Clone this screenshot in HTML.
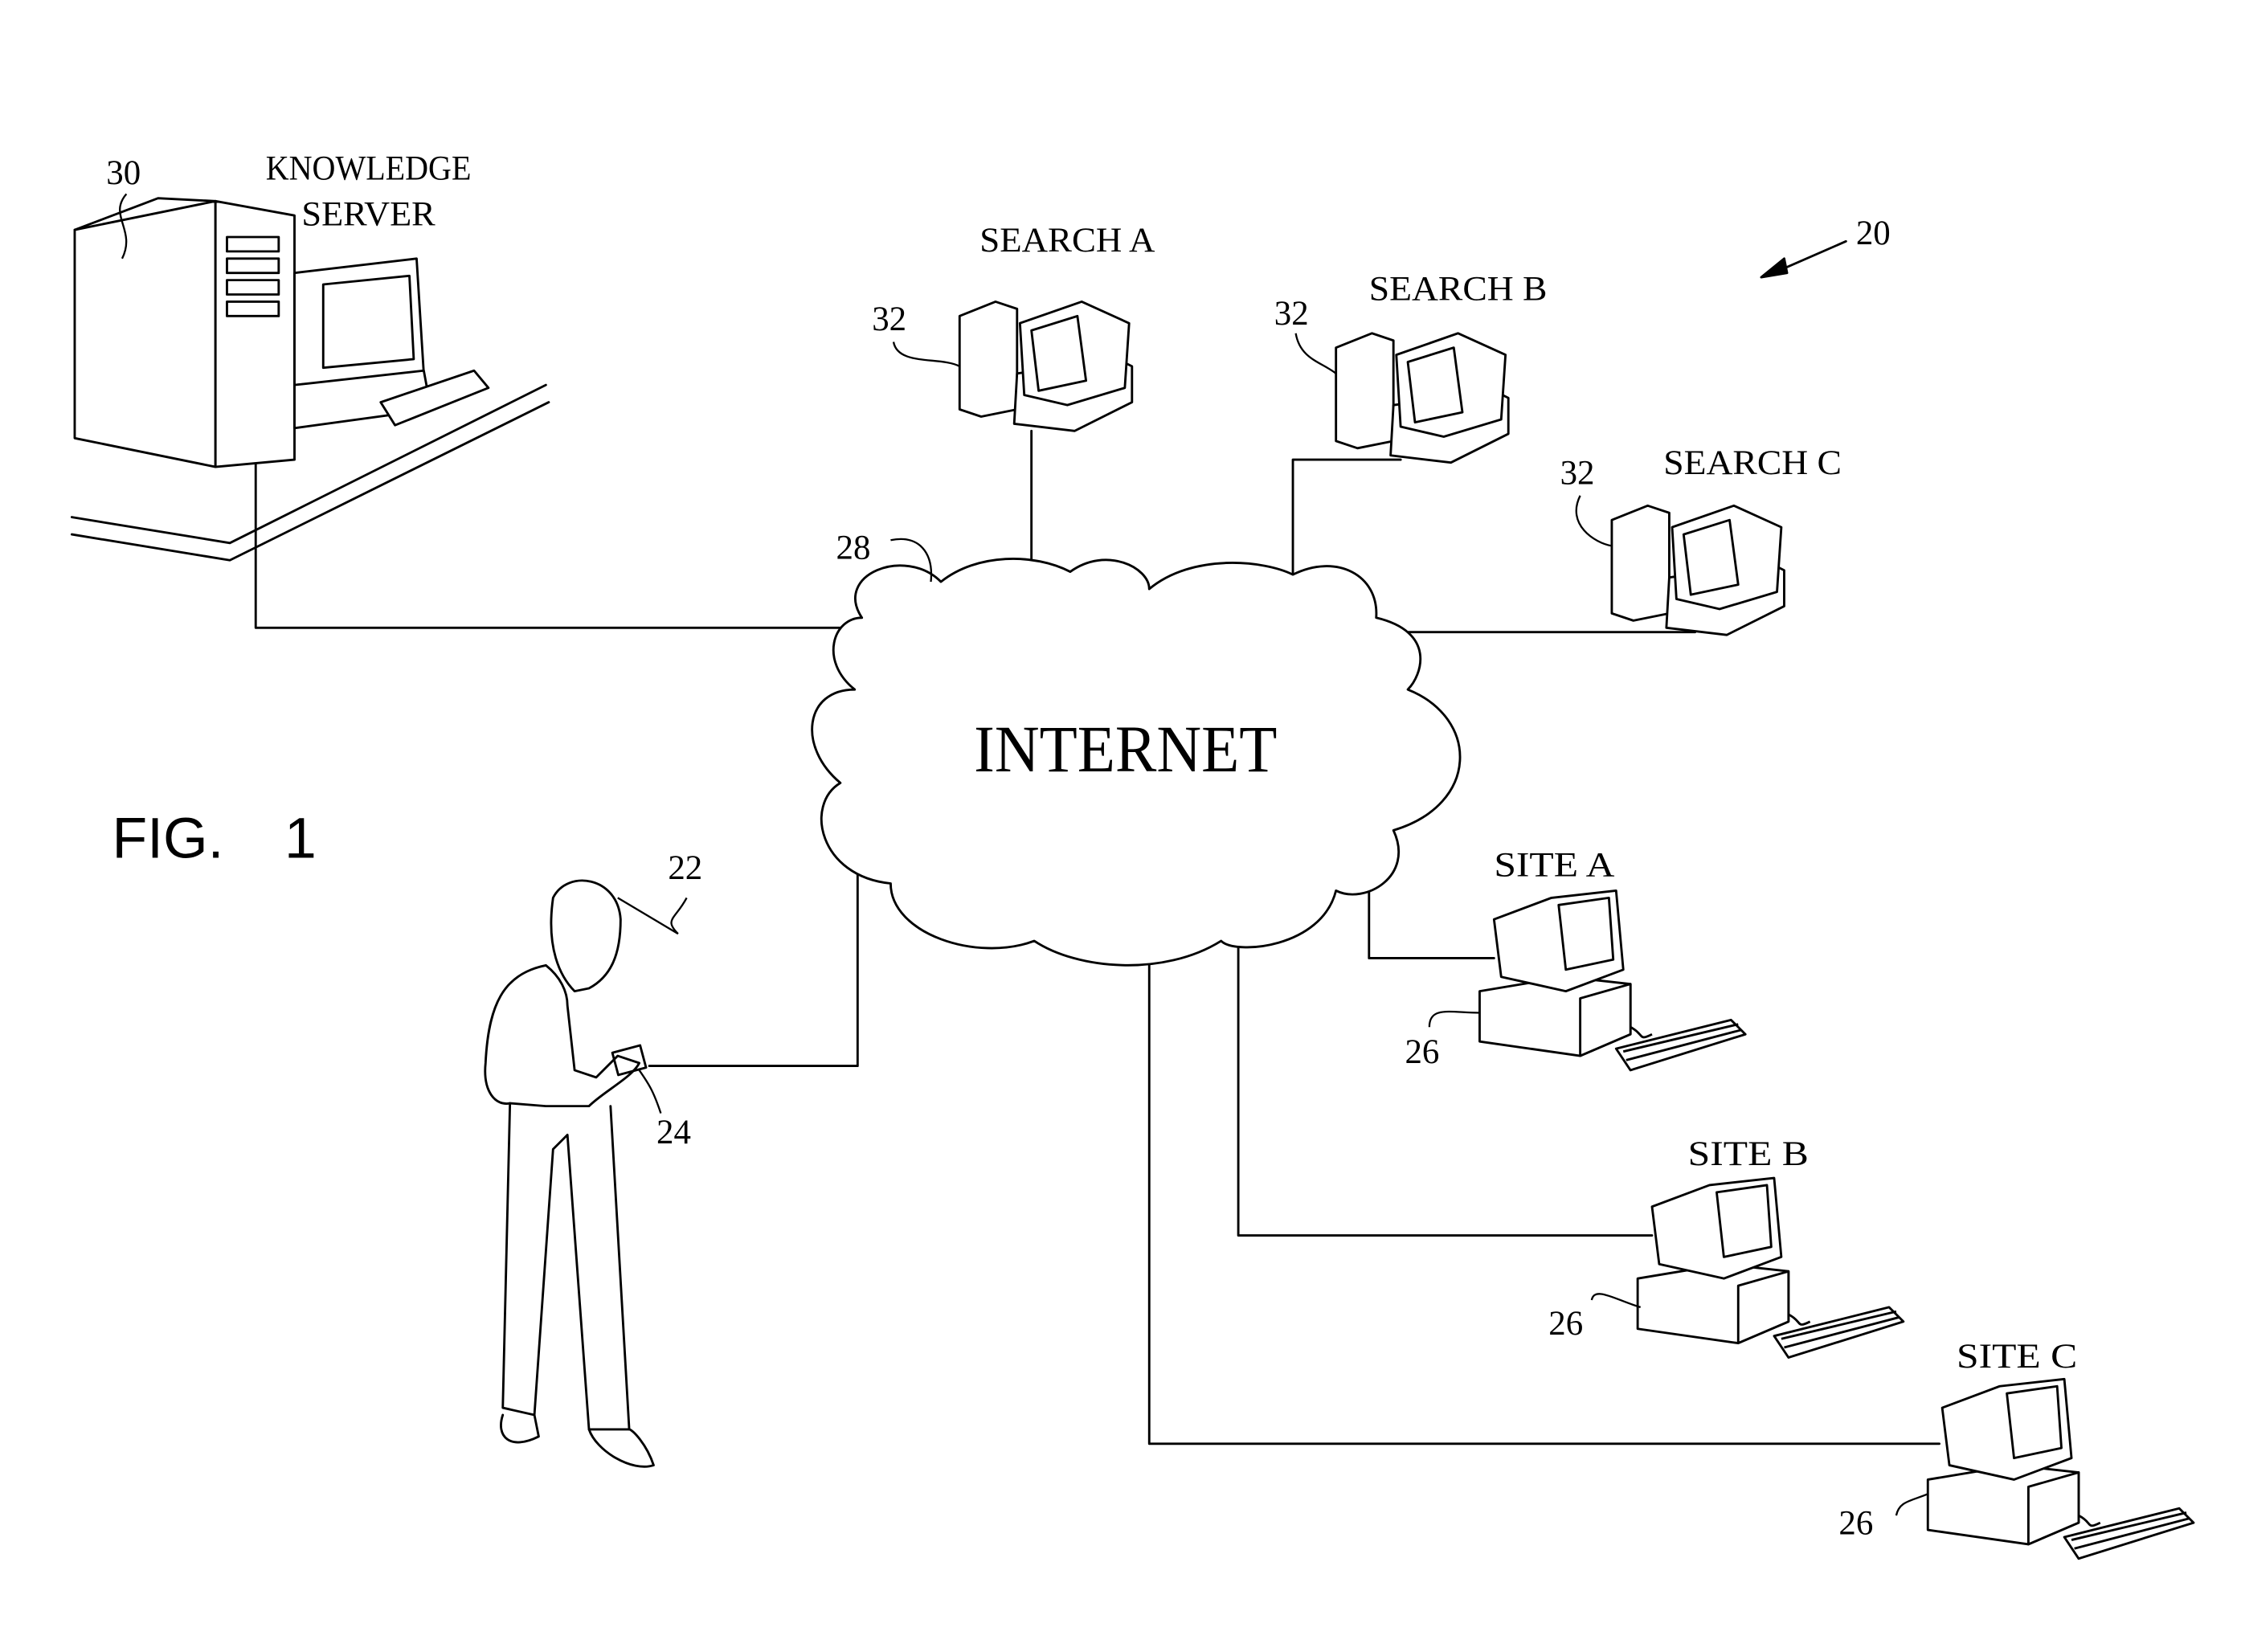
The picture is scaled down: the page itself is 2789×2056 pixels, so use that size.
<!DOCTYPE html>
<html><head><meta charset="utf-8"><style>
html,body{margin:0;padding:0;background:#fff;}
svg{display:block;}
.t{font-family:"Liberation Serif",serif;fill:#000;}
</style></head><body>
<svg width="2789" height="2056" viewBox="0 0 1560 1150" xmlns="http://www.w3.org/2000/svg">
<g fill="none" stroke="#000" stroke-width="1.6" stroke-linejoin="round" stroke-linecap="round">
<polyline points="178,315 178,437 592,437"/>
<polyline points="718,300 718,390"/>
<polyline points="975,320 900,320 900,400"/>
<polyline points="960,440 1180,440"/>
<polyline points="953,615 953,667 1040,667"/>
<polyline points="862,660 862,860 1150,860"/>
<polyline points="800,668 800,1005 1350,1005"/>
<polyline points="597,600 597,742 452,742"/>
<polyline points="1230,192 1285,168"/><polygon points="1226,193 1242,180 1244,190" fill="#000"/>
<path fill="#fff" d="M600,430 C580,400 630,380 655,405 C680,385 720,385 745,398 C770,380 800,395 800,410 C830,385 880,390 900,400 C930,385 960,400 958,430 C1000,440 990,470 980,480 C1030,500 1030,560 970,578 C985,610 950,630 930,620 C920,660 860,665 850,655 C810,680 750,675 720,655 C680,670 620,650 620,615 C570,610 560,560 585,545 C555,520 560,480 595,480 C570,460 580,430 600,430 Z"/>
<polyline points="50,360 160,378 380,268"/>
<polyline points="50,372 160,390 382,280"/>
<polygon fill="#fff" points="52,160 150,140 150,325 52,305"/>
<polygon fill="#fff" points="150,140 205,150 205,320 150,325"/>
<polyline points="52,160 110,138 150,140"/>
<rect x="158" y="165" width="36" height="10"/><rect x="158" y="180" width="36" height="10"/><rect x="158" y="195" width="36" height="10"/><rect x="158" y="210" width="36" height="10"/>
<polygon fill="#fff" points="205,190 290,180 295,260 205,268"/>
<polygon points="225,198 285,192 288,250 225,256"/>
<polygon fill="#fff" points="205,268 295,258 300,285 205,298"/>
<polygon fill="#fff" points="265,280 330,258 340,270 275,296"/>
</g>
<defs>
<g id="pc" fill="#fff" stroke="#000" stroke-width="1.6" stroke-linejoin="round">
<polygon points="0,10 25,0 40,5 40,75 15,80 0,75"/>
<polygon points="40,50 110,40 120,45 120,70 80,90 38,85"/>
<polygon points="42,15 85,0 118,15 115,60 75,72 45,65"/>
<polygon fill="none" points="50,20 82,10 88,55 55,62"/>
</g>
<g id="site" fill="#fff" stroke="#000" stroke-width="1.6" stroke-linejoin="round">
<polygon points="0,70 60,60 105,65 105,100 70,115 0,105"/>
<polygon points="70,75 105,65 105,100 70,115"/>
<polygon points="10,20 50,5 95,0 100,55 60,70 15,60"/>
<polygon fill="none" points="55,10 90,5 93,48 60,55"/>
<polygon points="95,110 175,90 185,100 105,125"/>
<polyline fill="none" points="100,112 180,93"/><polyline fill="none" points="102,118 182,97"/>
<path fill="none" d="M105,95 C115,100 110,105 120,100"/>
</g>
</defs>
<use href="#pc" x="668" y="210"/>
<use href="#pc" x="930" y="232"/>
<use href="#pc" x="1122" y="352"/>
<use href="#site" x="1030" y="620"/>
<use href="#site" x="1140" y="820"/>
<use href="#site" x="1342" y="960"/>
<g fill="none" stroke="#000" stroke-width="1.6" stroke-linejoin="round" stroke-linecap="round">
<path d="M385,625 C395,605 430,610 432,640 C432,665 425,680 410,688 L400,690 C390,680 380,660 385,625 Z"/>
<path d="M380,672 C350,678 340,700 338,740 C336,760 345,770 355,768 L380,770 L410,770 C420,760 440,750 445,740 L430,735 L415,750 L400,745 L395,700 C395,690 390,680 380,672"/>
<path d="M355,768 L350,980 L372,985 L385,800 L395,790 L410,995 L438,995 L425,770"/>
<path d="M350,985 C345,1000 355,1010 375,1000 L372,985"/>
<path d="M410,995 C415,1010 440,1025 455,1020 C450,1005 440,995 438,995"/>
<rect x="428" y="730" width="20" height="16" transform="rotate(-15 438 738)"/>
</g>
<g fill="none" stroke="#000" stroke-width="1.3">
<path d="M88,135 C75,150 95,160 85,180"/>
<path d="M622,238 C625,255 655,248 668,255"/>
<path d="M902,232 C905,250 920,252 930,260"/>
<path d="M1100,345 C1090,365 1110,378 1122,380"/>
<path d="M620,376 C640,372 650,385 648,405"/>
<path d="M478,625 C470,640 462,640 472,650 L430,625"/>
<path d="M460,775 C455,760 452,755 445,745"/>
<path d="M995,715 C995,700 1010,705 1030,705"/>
<path d="M1108,905 C1110,895 1125,905 1142,910"/>
<path d="M1320,1055 C1322,1045 1330,1045 1342,1040"/>
</g>
<g class="t" font-size="24">
<text x="74" y="128">30</text>
<text x="185" y="125" textLength="143" lengthAdjust="spacingAndGlyphs">KNOWLEDGE</text>
<text x="210" y="157" textLength="93" lengthAdjust="spacingAndGlyphs">SERVER</text>
<text x="682" y="175" textLength="122" lengthAdjust="spacingAndGlyphs">SEARCH A</text>
<text x="607" y="230">32</text>
<text x="953" y="209" textLength="124" lengthAdjust="spacingAndGlyphs">SEARCH B</text>
<text x="887" y="226">32</text>
<text x="1158" y="330" textLength="124" lengthAdjust="spacingAndGlyphs">SEARCH C</text>
<text x="1086" y="337">32</text>
<text x="1292" y="170">20</text>
<text x="582" y="389">28</text>
<text x="1040" y="610" textLength="84" lengthAdjust="spacingAndGlyphs">SITE A</text>
<text x="978" y="740">26</text>
<text x="1175" y="811" textLength="84" lengthAdjust="spacingAndGlyphs">SITE B</text>
<text x="1078" y="929">26</text>
<text x="1362" y="952" textLength="84" lengthAdjust="spacingAndGlyphs">SITE C</text>
<text x="1280" y="1068">26</text>
<text x="465" y="612">22</text>
<text x="457" y="796">24</text>
</g>
<text class="t" x="678" y="537" font-size="46" textLength="211" lengthAdjust="spacingAndGlyphs">INTERNET</text>
<text x="78" y="597" font-family="Liberation Sans,sans-serif" font-size="40">FIG.</text>
<text x="198" y="597" font-family="Liberation Sans,sans-serif" font-size="40">1</text>
</svg>
</body></html>
